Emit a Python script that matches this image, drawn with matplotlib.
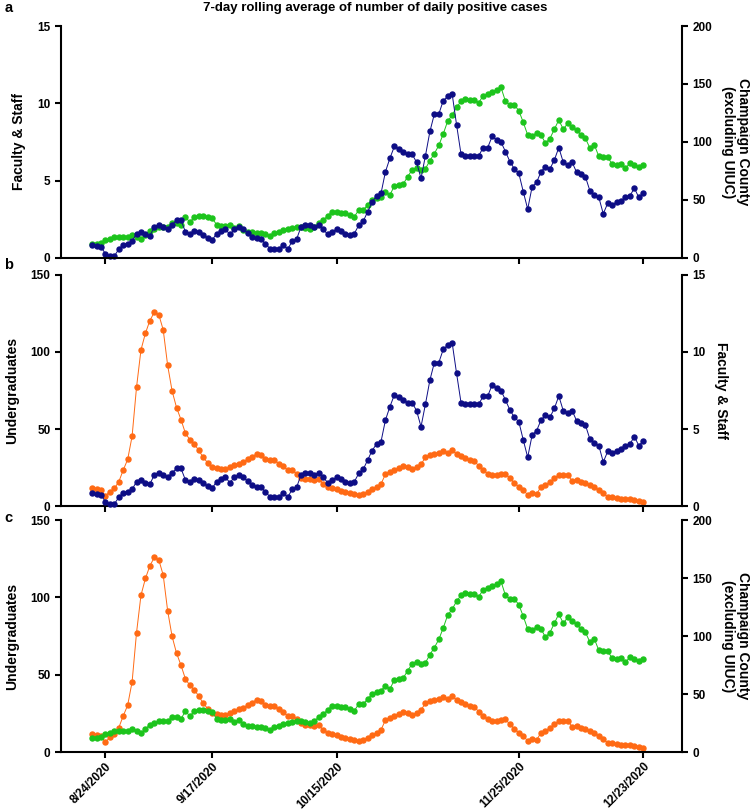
import matplotlib
matplotlib.use('Agg')
import matplotlib.pyplot as plt
import pandas as pd

plt.rcParams['font.family'] = ['Liberation Sans', 'DejaVu Sans']
plt.rcParams['font.weight'] = 'bold'

# daily points, 8/21/2020 .. 12/23/2020
dates = pd.date_range('2020-08-21', '2020-12-23', freq='D')
tick_dates = pd.to_datetime(['2020-08-24', '2020-09-17', '2020-10-15', '2020-11-25', '2020-12-23'])
tick_labels = ['8/24/2020', '9/17/2020', '10/15/2020', '11/25/2020', '12/23/2020']

faculty_staff = [
    0.87, 0.78, 0.71, 0.28, 0.13, 0.13, 0.56, 0.87, 0.93, 1.08,
    1.58, 1.69, 1.52, 1.43, 2.01, 2.16, 2.01, 1.86, 2.16, 2.44,
    2.44, 1.69, 1.58, 1.73, 1.69, 1.47, 1.30, 1.15, 1.58, 1.73,
    1.86, 1.52, 1.86, 2.01, 1.86, 1.60,
    1.36, 1.26, 1.21, 0.93, 0.60, 0.56, 0.56, 0.87, 0.56, 1.08,
    1.21, 2.01, 2.16, 2.16, 2.01, 2.16, 1.86, 1.52, 1.69, 1.86,
    1.73, 1.58, 1.47, 1.58, 2.12, 2.38, 2.99, 3.60, 4.03, 4.18,
    5.58, 6.45, 7.21, 7.06, 6.88, 6.71, 6.71,
    6.19, 5.15, 6.62, 8.18, 9.31, 9.31, 10.17, 10.45, 10.61, 8.61,
    6.71, 6.62, 6.62, 6.62, 6.62, 7.14, 7.14, 7.86, 7.64, 7.49,
    6.88, 6.23, 5.76, 5.48, 4.29, 3.16, 4.61, 4.89, 5.58, 5.91,
    5.76, 6.34, 7.14, 6.19, 6.02, 6.19, 5.54,
    5.40, 5.24, 4.34, 4.09, 3.92, 2.86, 3.54, 3.45, 3.60, 3.70,
    3.92, 4.03, 4.51, 3.92, 4.23,
]

champaign_county = [
    12, 12, 13.2, 15.5, 16, 17.8, 18.4, 17.8, 18.4, 19.8,
    18.4, 16, 19.8, 23.6, 24.7, 26.4, 27, 27, 29.9, 29.9,
    28.4, 35.4, 30.8, 35.4, 36, 36, 35.4, 34.5, 28.7, 27.3,
    27.3, 28.7, 25.9, 27.3, 24.4,
    22.7, 22.7, 21.8, 21.2, 20.7, 18.9, 21.2, 22.7, 24.1, 24.7,
    25.6, 27, 27, 25.6, 24.7, 27, 29.9, 32.8, 36.2, 40,
    40, 39, 38.5, 37, 35.6, 41.4, 41.4, 45.7, 50, 51.4,
    52.9, 57.2, 54.3, 62.1, 63, 63.8, 70.1,
    76, 78, 76, 77, 84, 90, 97, 107, 118, 123,
    130, 135, 137, 136, 136, 134, 140, 141, 143, 145,
    147, 135, 132, 132, 127, 117, 106, 105, 108, 106,
    99, 103, 111, 119, 111, 116, 113, 110, 106,
    103.1, 94.7, 97.5, 87.6, 86.7, 86.7, 81.1, 80.5, 81.1, 77.2,
    81.9, 80.5, 78.3, 80.5,
]

undergraduates = [
    11.4, 10.8, 10.1, 6.5, 9.4, 11.4, 15.7, 23.3, 30.2, 45.3,
    77.2, 101.4, 112.2, 120.4, 125.8, 124.3, 114.4, 91.3, 74.7, 63.9,
    56.1, 47.2, 43.1, 40.1, 36.2, 31.5, 28.1, 25.5, 24.4, 23.8,
    23.8, 25.1, 26.6, 27.6, 28.7,
    30.2, 32, 33.7, 33.1, 30.2, 29.8, 29.8, 27.6, 25.9, 23.3,
    23.3, 21.1, 18.5, 17.3, 17.3, 16.9, 17.3, 14.3, 12.5, 11.4,
    10.8, 10.0, 9.3, 8.2, 7.8, 7.2, 7.8, 9.3, 10.8, 12.1,
    14.3, 20.7, 22.2, 23.3, 24.4, 25.9, 25.1, 23.8,
    25.4, 27.2, 31.5, 33.1, 33.7, 34.5, 35.8, 34.1, 36.2, 33.7,
    32.4, 30.9, 29.8, 29.4, 25.9, 23.3, 21.1, 20.1, 20.1, 20.7,
    21.1, 17.9, 15.1, 12.5, 10.4, 7.2, 8.2, 7.8, 12.5, 13.6,
    15.7, 17.9, 20.1, 20.1, 20.1, 16.4, 16.8,
    15.7, 14.7, 13.6, 12.1, 10.4, 8.2, 6.0, 5.6, 5.2, 4.7,
    4.3, 4.3, 3.9, 3.5, 2.8,
]

NAVY = '#0d0d85'
GREEN = '#1cc41c'
ORANGE = '#ff6a14'

fac_label = 'Faculty & Staff'
ug_label = 'Undergraduates'
cty_label = 'Champaign County\n(excluding UIUC)'

x_min = pd.Timestamp('2020-08-14')
x_max = pd.Timestamp('2020-12-31 17:00')


def draw(ax, values, color):
    ax.plot(dates, values, color=color, lw=0.7, marker='o', ms=3.6,
            mec=color, mfc=color, clip_on=False)


def style(ax):
    ax.spines['top'].set_visible(False)
    for s in ['left', 'right', 'bottom']:
        ax.spines[s].set_linewidth(1.5)
    ax.tick_params(axis='both', direction='out', width=1.5, length=4,
                   labelsize=8.5)
    ax.tick_params(axis='x', pad=2)
    for lab in ax.get_yticklabels():
        lab.set_fontweight('bold')


fig = plt.figure(figsize=(7.5, 8.1), dpi=100)

panels = [
    # rect, left series, right series
    ([0.0813, 0.6815, 0.828, 0.2864],
     (faculty_staff, NAVY, (0, 15), [0, 5, 10, 15], fac_label),
     (champaign_county, GREEN, (0, 200), [0, 50, 100, 150, 200], cty_label),
     True),
    ([0.0813, 0.3753, 0.828, 0.2852],
     (undergraduates, ORANGE, (0, 150), [0, 50, 100, 150], ug_label),
     (faculty_staff, NAVY, (0, 15), [0, 5, 10, 15], fac_label),
     False),
    ([0.0813, 0.0716, 0.828, 0.2864],
     (undergraduates, ORANGE, (0, 150), [0, 50, 100, 150], ug_label),
     (champaign_county, GREEN, (0, 200), [0, 50, 100, 150, 200], cty_label),
     False),
]

for i, (rect, left, right, left_on_top) in enumerate(panels):
    ax = fig.add_axes(rect)
    ax2 = ax.twinx()

    lv, lc, llim, lticks, llab = left
    rv, rc, rlim, rticks, rlab = right
    draw(ax, lv, lc)
    draw(ax2, rv, rc)

    ax.set_xlim(x_min, x_max)
    ax.set_ylim(*llim)
    ax.set_yticks(lticks)
    ax2.set_ylim(*rlim)
    ax2.set_yticks(rticks)
    ax.set_xticks(tick_dates)
    if i == 2:
        ax.set_xticklabels(tick_labels, rotation=45, ha='right',
                           rotation_mode='anchor', fontsize=7.8,
                           fontweight='bold')
    else:
        ax.set_xticklabels([])

    style(ax)
    style(ax2)
    ax.spines['right'].set_visible(False)
    ax2.spines['left'].set_visible(False)
    ax2.spines['bottom'].set_visible(False)

    ax.set_ylabel(llab, fontsize=10, fontweight='bold', labelpad=8)
    ax2.set_ylabel(rlab, fontsize=10, fontweight='bold', rotation=270,
                   va='bottom', labelpad=6, linespacing=1.1)

    if left_on_top:
        ax.set_zorder(ax2.get_zorder() + 1)
        ax.patch.set_visible(False)

fig.text(0.5, 0.99, '7-day rolling average of number of daily positive cases',
         ha='center', va='center', fontsize=9.5, fontweight='bold')
for letter, y in zip(['a', 'b', 'c'], [0.99, 0.673, 0.36]):
    fig.text(0.006, y, letter, ha='left', va='center', fontsize=10.5,
             fontweight='bold')

fig.savefig('out.png', dpi=100)
